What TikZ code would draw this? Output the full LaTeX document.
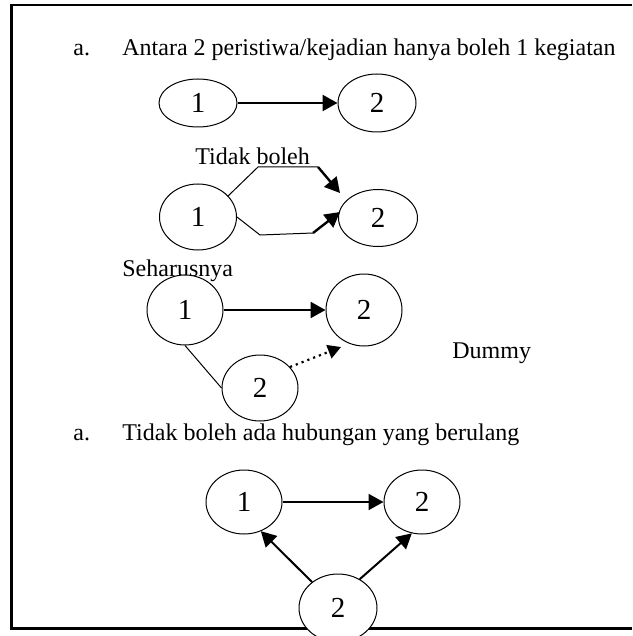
\documentclass[tikz,border=0pt]{standalone}
\usepackage{fontspec}
\setmainfont{Liberation Serif}
\usetikzlibrary{shapes.geometric,arrows.meta}

\begin{document}
\begin{tikzpicture}[x=0.5pt,y=-0.5pt,font=\fontsize{12}{14}\selectfont,
    event/.style={draw,ellipse,fill=white,line width=0.5pt,inner sep=0pt,font=\fontsize{14.5}{16}\selectfont},
    label/.style={anchor=base west,inner sep=0pt},
    bigarrow/.style={-{Triangle[length=7.5pt,width=8pt]},line width=1.2pt},
    dummyarrow/.style={-{Triangle[length=6.5pt,width=7pt]},line width=1.1pt,dotted},
    thinline/.style={line width=0.5pt}]
    \useasboundingbox (0,0) rectangle (632,636);

    % Frame
    \draw[line width=1.3pt] (632,5) -- (11.5,5) -- (11.5,628.5) -- (632,628.5);

    % Rule a: one activity between two events
    \node[label] (itema) at (73,56) {a.};
    \node[label] (rulea) at (122,56) {Antara 2 peristiwa/kejadian hanya boleh 1 kegiatan};
    \node[event, minimum width=39pt, minimum height=24pt] (r1a) at (198,103) {1};
    \node[event, minimum width=39pt, minimum height=29pt] (r1b) at (377,103) {2};
    \draw[bigarrow, line width=1.3pt] (r1a) -- (r1b);

    % Not allowed: two activities
    \node[label] (notok) at (195,165) {Tidak boleh};
    \node[event, minimum width=38.5pt, minimum height=33pt] (r2a) at (198,217) {1};
    \node[event, minimum width=39.5pt, minimum height=28.5pt] (r2b) at (378,218) {2};
    \coordinate (up1) at (258,167);
    \coordinate (up2) at (318,167);
    \coordinate (upend) at (340,193);
    \coordinate (lo1) at (260,235);
    \coordinate (lo2) at (313,233);
    \coordinate (loend) at (340,212);
    \draw[thinline] (r2a.35) -- (up1) -- (up2);
    \draw[bigarrow] (up2) -- (upend);
    \draw[thinline] (r2a.east) -- (lo1) -- (lo2);
    \draw[bigarrow] (lo2) -- (loend);

    % Should be: with a dummy
    \node[label] (ok) at (122,276) {Seharusnya};
    \node[event, minimum width=38pt, minimum height=35pt] (r3a) at (185,310) {1};
    \node[event, minimum width=38pt, minimum height=36pt] (r3b) at (364,310) {2};
    \node[event, minimum width=38pt, minimum height=33pt] (r3c) at (260,388) {2};
    \coordinate (dumend) at (341,347);
    \draw[bigarrow, line width=1.3pt] (r3a) -- (r3b);
    \draw[thinline] (r3a.south) -- (r3c.west);
    \draw[dummyarrow] (r3c.35) -- (dumend);
    \node[label] (dummy) at (452,358) {Dummy};

    % Rule b: no repeated relation
    \node[label] (itemb) at (73,440) {a.};
    \node[label] (ruleb) at (122,440) {Tidak boleh ada hubungan yang berulang};
    \node[event, minimum width=38pt, minimum height=32pt] (r4a) at (244,502) {1};
    \node[event, minimum width=38pt, minimum height=32pt] (r4b) at (422,502) {2};
    \node[event, minimum width=39pt, minimum height=34pt] (r4c) at (338,608) {2};
    \draw[bigarrow, line width=1pt] (r4a) -- (r4b);
    \draw[bigarrow, line width=1pt] (r4c.135) -- (r4a.300);
    \draw[bigarrow, line width=1pt] (r4c.53) -- (r4b.252);
\end{tikzpicture}
\end{document}
